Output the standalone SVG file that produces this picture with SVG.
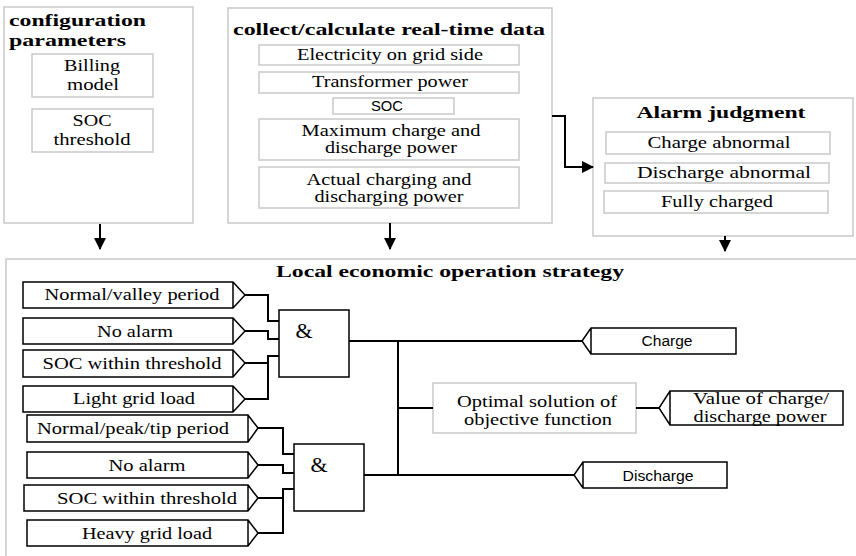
<svg xmlns="http://www.w3.org/2000/svg" width="856" height="556" viewBox="0 0 856 556">
<style>
.pane{fill:#fff;stroke:#c9c9c9;stroke-width:1.5}
.ibox{fill:#fff;stroke:#c9c9c9;stroke-width:1.5}
.inp{fill:#fff;stroke:#000;stroke-width:1.5}
.gate{fill:#fff;stroke:#000;stroke-width:1.5}
.w{fill:none;stroke:#000;stroke-width:2}
.t{font-family:"Liberation Serif","Times New Roman",serif;font-size:16px;fill:#000}
.tb{font-family:"Liberation Serif","Times New Roman",serif;font-size:17px;font-weight:bold;fill:#000}
.s{font-family:"Liberation Sans",Arial,sans-serif;font-size:14px;fill:#000}
.amp{font-family:"Liberation Serif","Times New Roman",serif;font-size:22px;fill:#000}
.c{text-anchor:middle}
</style>
<defs>
<marker id="ah" markerWidth="12" markerHeight="12" refX="11" refY="6" orient="auto" markerUnits="userSpaceOnUse">
<path d="M0,0 L12,6 L0,12 Z" fill="#000"/>
</marker>
</defs>

<g id="config">
<rect class="pane" x="4" y="7" width="189" height="216"/>
<text class="tb" x="9" y="26" textLength="137" lengthAdjust="spacingAndGlyphs">configuration</text>
<text class="tb" x="9" y="46" textLength="117" lengthAdjust="spacingAndGlyphs">parameters</text>
<g id="billing">
<rect class="ibox" x="32" y="54" width="121" height="43"/>
<text class="t c" x="92" y="71" textLength="56" lengthAdjust="spacingAndGlyphs">Billing</text>
<text class="t c" x="93" y="90" textLength="52" lengthAdjust="spacingAndGlyphs">model</text>
</g>
<g id="socth">
<rect class="ibox" x="32" y="109" width="121" height="43"/>
<text class="t c" x="92" y="126" textLength="39" lengthAdjust="spacingAndGlyphs">SOC</text>
<text class="t c" x="92" y="145" textLength="77" lengthAdjust="spacingAndGlyphs">threshold</text>
</g>
</g>

<g id="collect">
<rect class="pane" x="228" y="8" width="324" height="215"/>
<text class="tb c" x="389" y="35" textLength="312" lengthAdjust="spacingAndGlyphs">collect/calculate real-time data</text>
<g id="elec">
<rect class="ibox" x="259" y="45" width="260" height="20"/>
<text class="t c" x="390" y="60" textLength="186" lengthAdjust="spacingAndGlyphs">Electricity on grid side</text>
</g>
<g id="trans">
<rect class="ibox" x="259" y="72" width="260" height="21"/>
<text class="t c" x="390" y="87" textLength="156" lengthAdjust="spacingAndGlyphs">Transformer power</text>
</g>
<g id="soc">
<rect class="ibox" x="333" y="98" width="121" height="16"/>
<text class="s c" x="387" y="111" textLength="32" lengthAdjust="spacingAndGlyphs">SOC</text>
</g>
<g id="maxp">
<rect class="ibox" x="259" y="119" width="260" height="41"/>
<text class="t c" x="391" y="136" textLength="179" lengthAdjust="spacingAndGlyphs">Maximum charge and</text>
<text class="t c" x="391" y="153" textLength="132" lengthAdjust="spacingAndGlyphs">discharge power</text>
</g>
<g id="actp">
<rect class="ibox" x="259" y="167" width="260" height="41"/>
<text class="t c" x="389" y="185" textLength="165" lengthAdjust="spacingAndGlyphs">Actual charging and</text>
<text class="t c" x="389" y="202" textLength="149" lengthAdjust="spacingAndGlyphs">discharging power</text>
</g>
</g>

<g id="alarm">
<rect class="pane" x="593" y="98" width="260" height="138"/>
<text class="tb c" x="721" y="118" textLength="169" lengthAdjust="spacingAndGlyphs">Alarm judgment</text>
<g id="chab">
<rect class="ibox" x="606" y="132" width="224" height="22"/>
<text class="t c" x="719" y="148" textLength="143" lengthAdjust="spacingAndGlyphs">Charge abnormal</text>
</g>
<g id="dchab">
<rect class="ibox" x="605" y="163" width="224" height="20"/>
<text class="t c" x="724" y="178" textLength="174" lengthAdjust="spacingAndGlyphs">Discharge abnormal</text>
</g>
<g id="full">
<rect class="ibox" x="604" y="191" width="224" height="22"/>
<text class="t c" x="717" y="207" textLength="112" lengthAdjust="spacingAndGlyphs">Fully charged</text>
</g>
</g>

<g id="local">
<rect class="pane" x="6" y="259" width="856" height="310"/>
<text class="tb" x="276" y="277" textLength="348" lengthAdjust="spacingAndGlyphs">Local economic operation strategy</text>

<g id="in1">
<path class="inp" d="M23,282 H233 L245,295 L233,308 H23 Z M233,282 V308"/>
<text class="t c" x="132" y="300" textLength="175" lengthAdjust="spacingAndGlyphs">Normal/valley period</text>
</g>
<g id="in2">
<path class="inp" d="M23,318 H233 L245,331 L233,344 H23 Z M233,318 V344"/>
<text class="t c" x="135" y="337" textLength="76" lengthAdjust="spacingAndGlyphs">No alarm</text>
</g>
<g id="in3">
<path class="inp" d="M23,350 H233 L245,363 L233,377 H23 Z M233,350 V377"/>
<text class="t c" x="132" y="369" textLength="179" lengthAdjust="spacingAndGlyphs">SOC within threshold</text>
</g>
<g id="in4">
<path class="inp" d="M23,386 H233 L245,399 L233,412 H23 Z M233,386 V412"/>
<text class="t c" x="134" y="404" textLength="122" lengthAdjust="spacingAndGlyphs">Light grid load</text>
</g>
<g id="in5">
<path class="inp" d="M27,415 H248 L258,428 L248,442 H27 Z M248,415 V442"/>
<text class="t c" x="133" y="434" textLength="192" lengthAdjust="spacingAndGlyphs">Normal/peak/tip period</text>
</g>
<g id="in6">
<path class="inp" d="M27,452 H248 L258,465 L248,478 H27 Z M248,452 V478"/>
<text class="t c" x="147" y="471" textLength="77" lengthAdjust="spacingAndGlyphs">No alarm</text>
</g>
<g id="in7">
<path class="inp" d="M24,485 H248 L258,498 L248,511 H24 Z M248,485 V511"/>
<text class="t c" x="147" y="504" textLength="180" lengthAdjust="spacingAndGlyphs">SOC within threshold</text>
</g>
<g id="in8">
<path class="inp" d="M27,520 H248 L258,533 L248,546 H27 Z M248,520 V546"/>
<text class="t c" x="147" y="539" textLength="130" lengthAdjust="spacingAndGlyphs">Heavy grid load</text>
</g>

<g id="and1">
<rect class="gate" x="279" y="310" width="70" height="67"/>
<text class="amp c" x="304" y="338">&amp;</text>
</g>
<g id="and2">
<rect class="gate" x="294" y="444" width="70" height="67"/>
<text class="amp c" x="319" y="472">&amp;</text>
</g>

<g id="optimal">
<rect class="ibox" x="433" y="383" width="203" height="50"/>
<text class="t c" x="537" y="407" textLength="160" lengthAdjust="spacingAndGlyphs">Optimal solution of</text>
<text class="t c" x="538" y="425" textLength="148" lengthAdjust="spacingAndGlyphs">objective function</text>
</g>
<g id="charge">
<path class="inp" d="M591,328 H736 V354 H591 L582,341 Z M591,328 V354"/>
<text class="s c" x="667" y="346" textLength="51" lengthAdjust="spacingAndGlyphs">Charge</text>
</g>
<g id="value">
<path class="inp" d="M670,391 H843 V425 H670 L659,408 Z M670,391 V425"/>
<text class="t c" x="761" y="404" textLength="136" lengthAdjust="spacingAndGlyphs">Value of charge/</text>
<text class="t c" x="760" y="422" textLength="133" lengthAdjust="spacingAndGlyphs">discharge power</text>
</g>
<g id="discharge">
<path class="inp" d="M583,462 H727 V488 H583 L574,475 Z M583,462 V488"/>
<text class="s c" x="658" y="481" textLength="71" lengthAdjust="spacingAndGlyphs">Discharge</text>
</g>
</g>

<g id="connectors">
<line class="w" x1="100" y1="224" x2="100" y2="249" marker-end="url(#ah)"/>
<line class="w" x1="390" y1="223" x2="390" y2="249" marker-end="url(#ah)"/>
<line class="w" x1="725" y1="236" x2="725" y2="251" marker-end="url(#ah)"/>
<polyline class="w" points="552,116 565,116 565,167 593,167" marker-end="url(#ah)"/>

<polyline class="w" points="245,295 268,295 268,321 279,321"/>
<polyline class="w" points="245,331 268,331 268,339 279,339"/>
<polyline class="w" points="245,363 268,363"/>
<polyline class="w" points="245,399 268,399 268,356 279,356"/>

<polyline class="w" points="258,428 283,428 283,454 294,454"/>
<polyline class="w" points="258,465 283,465 283,473 294,473"/>
<polyline class="w" points="258,498 283,498"/>
<polyline class="w" points="258,533 283,533 283,489 294,489"/>

<line class="w" x1="349" y1="341" x2="582" y2="341"/>
<line class="w" x1="364" y1="475" x2="574" y2="475"/>
<line class="w" x1="398" y1="341" x2="398" y2="475"/>
<line class="w" x1="398" y1="408" x2="433" y2="408"/>
<line class="w" x1="636" y1="408" x2="659" y2="408"/>
</g>
</svg>
